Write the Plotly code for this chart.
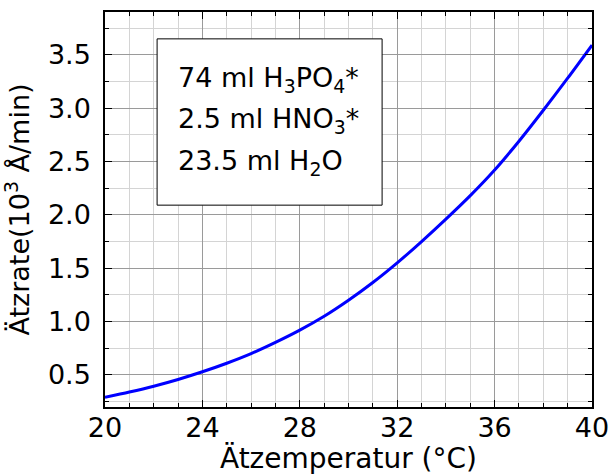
import plotly.graph_objects as go

temperature = [20, 21, 22, 23, 24, 25, 26, 27, 28, 29, 30, 31, 32, 33, 34, 35, 36, 37, 38, 39, 40]
etch_rate = [0.29, 0.34, 0.395, 0.458, 0.53, 0.61, 0.70, 0.805, 0.92, 1.05, 1.20, 1.366, 1.55, 1.75,
             1.96, 2.18, 2.42, 2.69, 2.98, 3.28, 3.59]
x_ticks = [20, 24, 28, 32, 36, 40]
y_ticks = [0.5, 1.0, 1.5, 2.0, 2.5, 3.0, 3.5]
y_ticklabels = ["0.5", "1.0", "1.5", "2.0", "2.5", "3.0", "3.5"]
box_lines = ["74 ml H<sub>3</sub>PO<sub>4</sub>*",
             "2.5 ml HNO<sub>3</sub>*",
             "23.5 ml H<sub>2</sub>O"]

FONT = "DejaVu Sans"

fig = go.Figure()
fig.add_trace(go.Scatter(x=temperature, y=etch_rate, mode="lines",
                         line=dict(color="#0000ff", width=3, shape="spline", smoothing=0.8),
                         showlegend=False))

axis_common = dict(
    showline=True, linecolor="black", linewidth=1.5, mirror="ticks",
    ticks="inside", ticklen=7, tickwidth=1.2, tickcolor="black",
    showgrid=True, gridcolor="#9a9a9a", gridwidth=1,
    zeroline=False, automargin=False, ticklabeloverflow="allow",
    tickfont=dict(family=FONT, size=27, color="black"),
)

fig.update_layout(
    width=609, height=475,
    margin=dict(l=105, r=17, t=12, b=68),
    paper_bgcolor="white", plot_bgcolor="white",
    font=dict(family=FONT, color="black"),
    xaxis=dict(
        range=[20, 40], tickvals=x_ticks, ticktext=[str(v) for v in x_ticks],
        minor=dict(dtick=1, tick0=20, ticks="inside", ticklen=4, tickcolor="black",
                   showgrid=True, gridcolor="#d4d4d4", gridwidth=1),
        title=dict(text="Ätzemperatur (°C)", font=dict(family=FONT, size=28), standoff=8),
        ticklabelstandoff=-4,
        **axis_common,
    ),
    yaxis=dict(
        range=[0.2, 3.9], tickvals=y_ticks, ticktext=y_ticklabels,
        minor=dict(dtick=0.25, tick0=0, ticks="inside", ticklen=4, tickcolor="black",
                   showgrid=True, gridcolor="#d4d4d4", gridwidth=1),
        title=dict(text="Ätzrate(10<sup>3</sup> Å/min)", font=dict(family=FONT, size=27), standoff=12),
        ticklabelstandoff=7,
        **axis_common,
    ),
)

fig.add_shape(type="rect", xref="paper", yref="paper", x0=0.107, x1=0.569, y0=0.511, y1=0.932,
              line=dict(color="black", width=1), fillcolor="white", layer="above")

line_y = [0.830, 0.725, 0.620]
for txt, yy in zip(box_lines, line_y):
    fig.add_annotation(xref="paper", yref="paper", x=0.145, y=yy, text=txt, showarrow=False,
                       xanchor="left", yanchor="middle",
                       font=dict(family=FONT, size=27, color="black"))

fig.write_html("out.html", config={"displayModeBar": False},
               post_script="document.body.style.margin='0';")
